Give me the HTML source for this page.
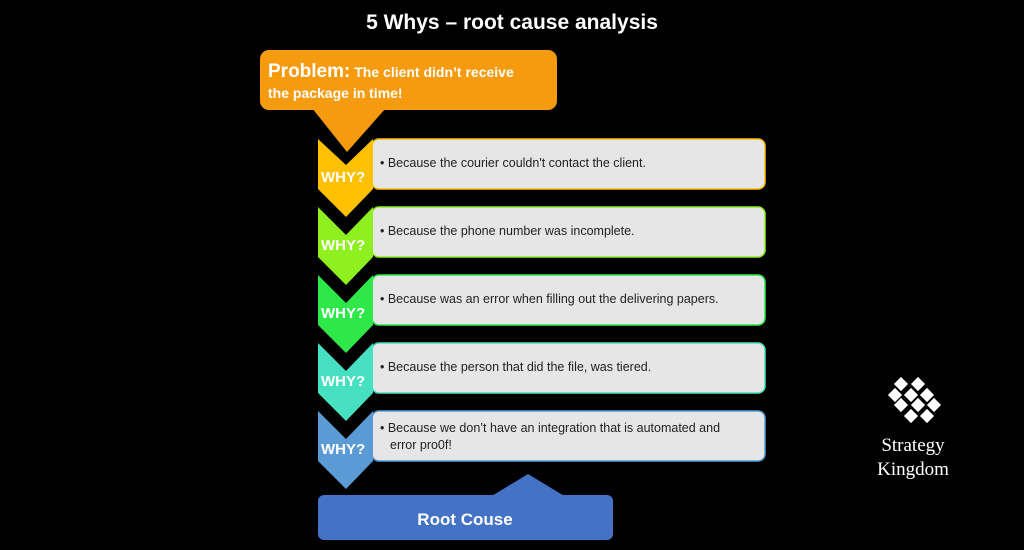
<!DOCTYPE html>
<html><head><style>
body{margin:0;width:1024px;height:550px;background:#000;overflow:hidden;font-family:"Liberation Sans",sans-serif}
</style></head><body>
<svg width="1024" height="550" xmlns="http://www.w3.org/2000/svg" style="position:absolute;left:0;top:0">
<text x="512" y="29" fill="#fff" font-size="21" font-weight="bold" text-anchor="middle" font-family="Liberation Sans">5 Whys – root cause analysis</text>
<rect x="260" y="50" width="297" height="60" rx="9" fill="#F79B0E"/>
<polygon points="312,108 386,108 347,152" fill="#F79B0E"/>
<text x="268" y="77" fill="#fff" font-weight="bold" font-family="Liberation Sans"><tspan font-size="19">Problem:</tspan><tspan font-size="14"> The client didn’t receive</tspan></text>
<text x="268" y="98" fill="#fff" font-size="14" font-weight="bold" font-family="Liberation Sans">the package in time!</text>
<g font-family="Liberation Sans">
<!-- rows -->
<g transform="translate(0,0)">
<rect x="372" y="139" width="393" height="50" rx="7" fill="#E6E6E6" stroke="#FFC000" stroke-width="1.5"/>
<polygon points="318,139 346,165 373,139 373,189 346,217 318,189" fill="#FFC000"/>
<text x="321" y="182" fill="#fff" font-size="15" font-weight="bold">WHY?</text>
<text x="380" y="167" fill="#222" font-size="12.5">• Because the courier couldn't contact the client.</text>
</g>
<g>
<rect x="372" y="207" width="393" height="50" rx="7" fill="#E6E6E6" stroke="#8EF01E" stroke-width="1.5"/>
<polygon points="318,207 346,235 373,207 373,257 346,285 318,257" fill="#8EF01E"/>
<text x="321" y="250" fill="#fff" font-size="15" font-weight="bold">WHY?</text>
<text x="380" y="235" fill="#222" font-size="12.5">• Because the phone number was incomplete.</text>
</g>
<g>
<rect x="372" y="275" width="393" height="50" rx="7" fill="#E6E6E6" stroke="#2EE84A" stroke-width="1.5"/>
<polygon points="318,275 346,303 373,275 373,325 346,353 318,325" fill="#2EE84A"/>
<text x="321" y="318" fill="#fff" font-size="15" font-weight="bold">WHY?</text>
<text x="380" y="303" fill="#222" font-size="12.5">• Because was an error when filling out the delivering papers.</text>
</g>
<g>
<rect x="372" y="343" width="393" height="50" rx="7" fill="#E6E6E6" stroke="#47E0C0" stroke-width="1.5"/>
<polygon points="318,343 346,371 373,343 373,393 346,421 318,393" fill="#47E0C0"/>
<text x="321" y="386" fill="#fff" font-size="15" font-weight="bold">WHY?</text>
<text x="380" y="371" fill="#222" font-size="12.5">• Because the person that did the file, was tiered.</text>
</g>
<g>
<rect x="372" y="411" width="393" height="50" rx="7" fill="#E6E6E6" stroke="#5B9BD5" stroke-width="1.5"/>
<polygon points="318,411 346,439 373,411 373,461 346,489 318,461" fill="#5B9BD5"/>
<text x="321" y="454" fill="#fff" font-size="15" font-weight="bold">WHY?</text>
<text x="380" y="432" fill="#222" font-size="12.5">• Because we don’t have an integration that is automated and</text>
<text x="390" y="449" fill="#222" font-size="12.5">error pro0f!</text>
</g>
</g>
<rect x="318" y="495" width="295" height="45" rx="6" fill="#4472C4"/>
<polygon points="490,497 528,474 566,497" fill="#4472C4"/>
<text x="465" y="525" fill="#fff" font-size="17" font-weight="bold" text-anchor="middle" font-family="Liberation Sans">Root Couse</text>
<g fill="#fff">
<rect x="-5" y="-5" width="10" height="10" transform="translate(901,384) rotate(45)"/>
<rect x="-5" y="-5" width="10" height="10" transform="translate(918,384) rotate(45)"/>
<rect x="-5" y="-5" width="10" height="10" transform="translate(895,395) rotate(45)"/>
<rect x="-5" y="-5" width="10" height="10" transform="translate(911,395) rotate(45)"/>
<rect x="-5" y="-5" width="10" height="10" transform="translate(927,395) rotate(45)"/>
<rect x="-5" y="-5" width="10" height="10" transform="translate(901,405) rotate(45)"/>
<rect x="-5" y="-5" width="10" height="10" transform="translate(918,405) rotate(45)"/>
<rect x="-5" y="-5" width="10" height="10" transform="translate(934,405) rotate(45)"/>
<rect x="-5" y="-5" width="10" height="10" transform="translate(911,416) rotate(45)"/>
<rect x="-5" y="-5" width="10" height="10" transform="translate(927,416) rotate(45)"/>
</g>
<text x="913" y="451" fill="#fff" font-size="19" text-anchor="middle" font-family="Liberation Serif">Strategy</text>
<text x="913" y="475" fill="#fff" font-size="19" text-anchor="middle" font-family="Liberation Serif">Kingdom</text>
</svg>
</body></html>
